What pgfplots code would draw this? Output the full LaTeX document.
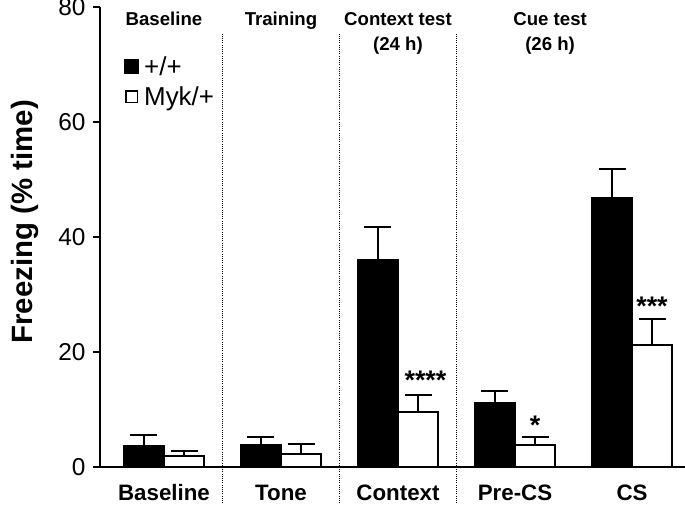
\documentclass[border=0pt]{standalone}
\usepackage{fontspec}
\setmainfont{Liberation Sans}
\usepackage{pgfplots}
\pgfplotsset{compat=1.18}

\begin{document}
\begin{tikzpicture}
  \begin{axis}[
    scale only axis,
    width=585bp, height=460bp,
    xmin=-0.547, xmax=4.453,
    ymin=0, ymax=80,
    ybar,
    clip=false,
    axis x line*=bottom, axis y line*=left,
    axis line style={line width=2.2bp, black},
    xtick={0,1,2,3,4},
    xticklabels={Baseline,Tone,Context,Pre-CS,CS},
    x tick style={draw=none},
    ytick={0,20,40,60,80},
    y tick style={line width=2bp, black},
    tick align=outside, major tick length=7bp,
    /pgf/number format/assume math mode=true,
    yticklabel style={font=\fontsize{24.5}{25}\selectfont, xshift=-4bp},
    xticklabel style={font=\bfseries\fontsize{22.4}{24}\selectfont, text height=0.73em, text depth=0.21em, yshift=-16bp},
    ylabel={Freezing (\% time)},
    every axis y label/.style={at={(axis description cs:-0.128,0.533)}, rotate=90, anchor=center,
      font=\bfseries\fontsize{29.5}{31}\selectfont},
    legend style={draw=none, fill=none, at={(axis description cs:0.041,0.895)}, anchor=north west,
      inner sep=0pt, row sep=8bp, font=\fontsize{26}{28}\selectfont,
      nodes={inner sep=1bp}},
    legend cell align=left,
  ]
    % +/+ (wild type)
    \addplot[fill=black, draw=black, line width=2bp, bar width=0.342, bar shift=-0.171,
      legend image code/.code={\fill[black] (0bp,-6.5bp) rectangle (13bp,6.5bp); \path (17bp,0bp);},
      error bars/.cd, y dir=plus, y explicit,
      error bar style={line width=2bp, black},
      error mark options={rotate=90, mark size=13.5bp, line width=2bp, black}]
      coordinates {(0,3.7) +- (0,1.8) (1,3.9) +- (0,1.4) (2,36.0) +- (0,5.7) (3,11.1) +- (0,2.2) (4,46.8) +- (0,5.1)};
    \addlegendentry{+/+}
    % Myk/+
    \addplot[fill=white, draw=black, line width=2bp, bar width=0.342, bar shift=0.171,
      legend image code/.code={\draw[black, fill=white, line width=1.4bp] (0.7bp,-5.8bp) rectangle (12.3bp,5.8bp); \path (17bp,0bp);},
      error bars/.cd, y dir=plus, y explicit,
      error bar style={line width=2bp, black},
      error mark options={rotate=90, mark size=13.5bp, line width=2bp, black}]
      coordinates {(0,1.9) +- (0,0.9) (1,2.3) +- (0,1.7) (2,9.5) +- (0,3.1) (3,3.8) +- (0,1.5) (4,21.3) +- (0,4.4)};
    \addlegendentry{Myk/+}

    % separators between phases
    \draw[line width=1.3bp, dash pattern=on 1.1bp off 1.1bp] (axis cs:0.5,-6.3) -- (axis cs:0.5,75.5);
    \draw[line width=1.3bp, dash pattern=on 1.1bp off 1.1bp] (axis cs:1.5,-6.3) -- (axis cs:1.5,75.5);
    \draw[line width=1.3bp, dash pattern=on 1.1bp off 1.1bp] (axis cs:2.5,-6.3) -- (axis cs:2.5,75.5);

    % phase titles
    \begin{scope}[every node/.style={font=\bfseries\fontsize{18.7}{20}\selectfont, anchor=base}]
      \node at (axis cs:0,76.7) {Baseline};
      \node at (axis cs:1,76.7) {Training};
      \node at (axis cs:2,76.7) {Context test};
      \node at (axis cs:2,72.5) {(24 h)};
      \node at (axis cs:3.3,76.7) {Cue test};
      \node at (axis cs:3.3,72.5) {(26 h)};
    \end{scope}

    % significance
    \begin{scope}[every node/.style={font=\bfseries\fontsize{27}{27}\selectfont}]
      \node at (axis cs:2.235,15.0) {****};
      \node at (axis cs:3.171,7.2) {*};
      \node at (axis cs:4.171,28.0) {***};
    \end{scope}

    \coordinate (bl) at (rel axis cs:0,0);
    \coordinate (tr) at (rel axis cs:1,1);
  \end{axis}
  \pgfresetboundingbox
  \path ([xshift=-100bp,yshift=-41bp]bl) rectangle ([yshift=7bp]tr);
\end{tikzpicture}
\end{document}
